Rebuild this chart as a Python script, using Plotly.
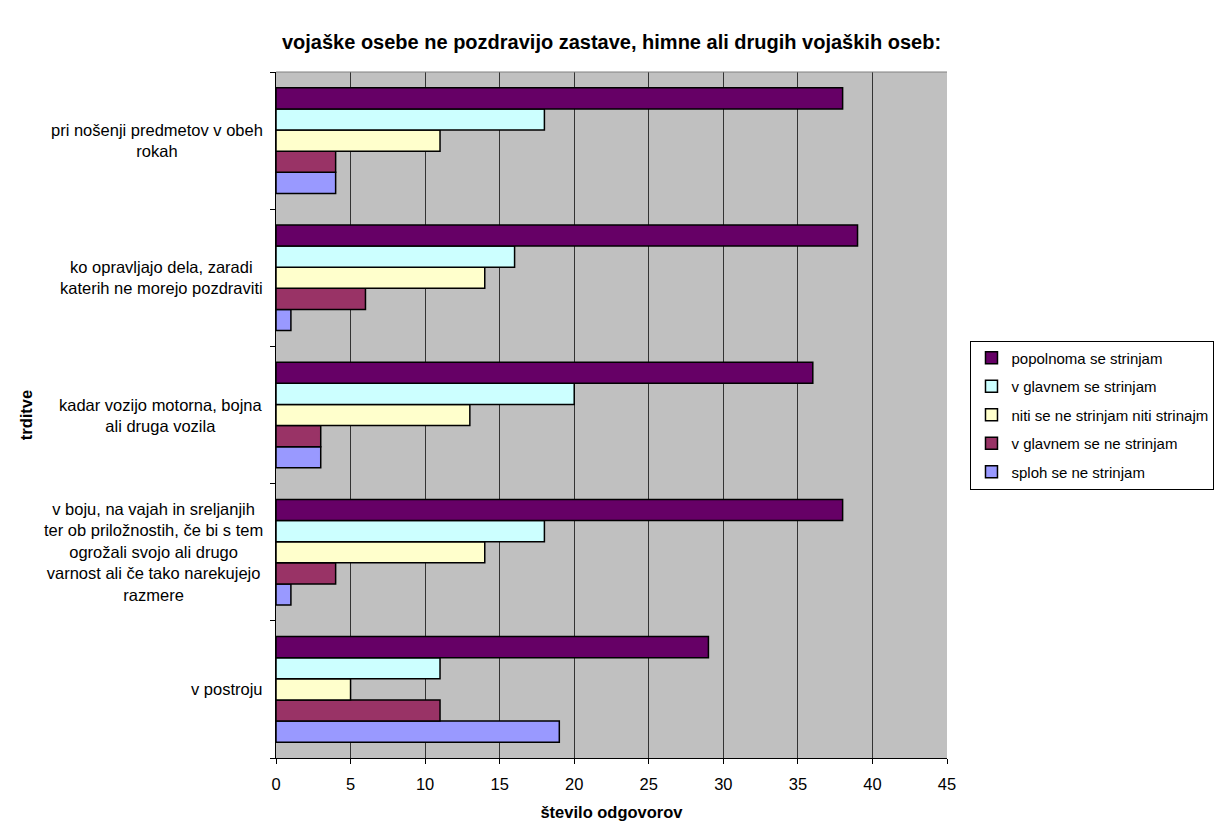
import plotly.graph_objects as go

# categories listed bottom-up
categories = [
    "v postroju",
    "v boju, na vajah in sreljanjih<br>ter ob priložnostih, če bi s tem<br>ogrožali svojo ali drugo<br>varnost ali če tako narekujejo<br>razmere",
    "kadar vozijo motorna, bojna<br>ali druga vozila",
    "ko opravljajo dela, zaradi<br>katerih ne morejo pozdraviti",
    "pri nošenji predmetov v obeh<br>rokah",
]
series_names = [
    "popolnoma se strinjam",
    "v glavnem se strinjam",
    "niti se ne strinjam niti strinajm",
    "v glavnem se ne strinjam",
    "sploh se ne strinjam",
]
popolnoma = [29, 38, 36, 39, 38]
v_glavnem_da = [11, 18, 20, 16, 18]
niti = [5, 14, 13, 14, 11]
v_glavnem_ne = [11, 4, 3, 6, 4]
sploh = [19, 1, 3, 1, 4]
series_values = [popolnoma, v_glavnem_da, niti, v_glavnem_ne, sploh]
colors = ["#660066", "#CCFFFF", "#FFFFCC", "#993366", "#9999FF"]

FONT = "Liberation Sans, Arial, sans-serif"
FS = 16.5

fig = go.Figure()
# add bottom-most series first so it sits at the bottom of each group
for i in reversed(range(len(series_names))):
    fig.add_trace(go.Bar(
        y=categories, x=series_values[i], orientation="h",
        name=series_names[i], legendrank=i + 1, legendgroup=series_names[i],
        marker=dict(color=colors[i], line=dict(color="black", width=1.5)),
    ))

for c in categories:
    fig.add_annotation(
        x=0, xref="paper", xanchor="right", xshift=-11,
        y=c, yref="y", text=c, showarrow=False, align="center",
        font=dict(family=FONT, size=FS, color="black"),
    )

fig.add_shape(type="line", xref="paper", yref="paper", x0=0, x1=1, y0=1, y1=1,
              line=dict(color="#808080", width=1))

fig.update_layout(
    width=1227, height=830,
    margin=dict(l=276, r=278, t=72, b=72),
    paper_bgcolor="white", plot_bgcolor="#C0C0C0",
    font=dict(family=FONT, size=FS, color="black"),
    title=dict(text="<b>vojaške osebe ne pozdravijo zastave, himne ali drugih vojaških oseb:</b>",
               x=0.5, xref="paper", xanchor="center", y=0.949, yanchor="middle",
               font=dict(family=FONT, size=20)),
    barmode="group", bargap=0.23, bargroupgap=0,
    showlegend=True,
    legend=dict(x=1.035, xanchor="left", y=0.5, yanchor="middle",
                bordercolor="black", borderwidth=1, bgcolor="white",
                traceorder="grouped", tracegroupgap=6, itemwidth=30,
                font=dict(family=FONT, size=15)),
    xaxis=dict(range=[0, 45], dtick=5, tick0=0, showgrid=True, gridcolor="#333333",
               gridwidth=1, ticks="outside", ticklen=5, tickcolor="black",
               ticklabelstandoff=6,
               showline=True, linecolor="black", linewidth=1, zeroline=False,
               title=dict(text="<b>število odgovorov</b>", standoff=14,
                          font=dict(family=FONT, size=FS))),
    yaxis=dict(type="category", showticklabels=False, ticks="outside", ticklen=5,
               tickcolor="black", tickson="boundaries", showgrid=False,
               showline=True, linecolor="black", linewidth=1,
               title=dict(text="<b>trditve</b>", standoff=238,
                          font=dict(family=FONT, size=FS))),
)

fig.write_html("out.html")
